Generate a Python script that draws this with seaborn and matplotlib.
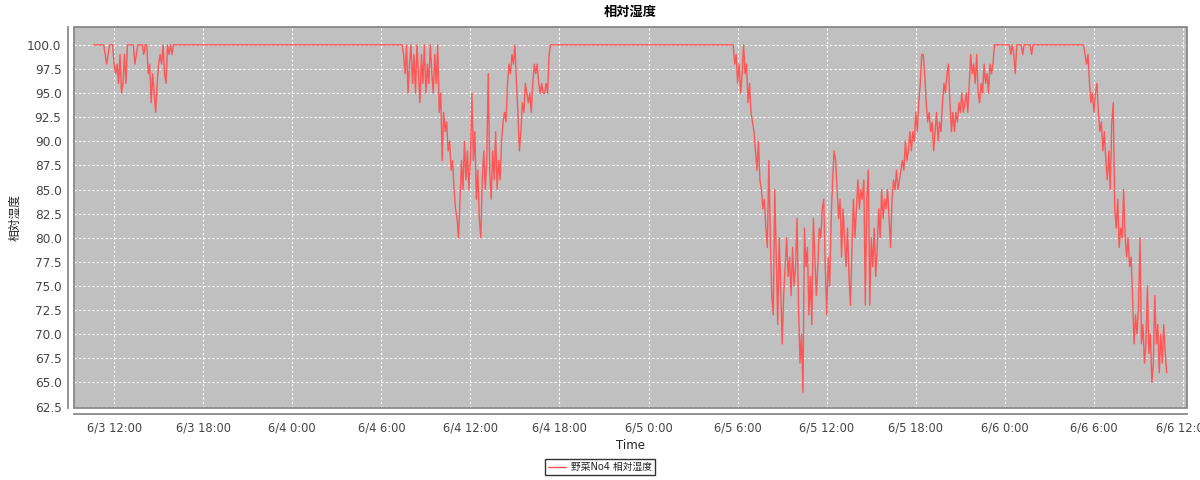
import pandas as pd
import matplotlib
matplotlib.use('Agg')
import matplotlib.pyplot as plt #used for plots
import matplotlib.dates as mdates
from matplotlib.patches import Rectangle
from matplotlib.ticker import FuncFormatter
import seaborn as sns #line plot

#humidity readings, one every 6 minutes, split into the parts where the value moves
#(the line between the parts stays at 100)
seg_a_start = '2000-06-03 10:36'
seg_a = [100, 100, 100, 100, 100, 100, 100, 100, 99, 98,
         99, 100, 100, 100, 98, 97, 98, 96, 99, 95,
         96, 99, 96, 100, 100, 100, 100, 100, 98, 99,
         100, 100, 100, 100, 99, 100, 100, 97, 98, 94,
         97, 95, 93, 96, 98, 99, 98, 100, 97, 96,
         100, 99, 100, 99, 100]

seg_b_start = '2000-06-04 07:24'
seg_b = [100, 99, 97, 100, 95, 98, 100, 96, 99, 95,
         100, 97, 94, 99, 96, 100, 95, 98, 96, 100,
         97, 95, 99, 96, 100, 93, 95, 88, 93, 91,
         92, 89, 90, 87, 88, 85, 83, 82, 80, 84,
         88, 85, 90, 86, 89, 85, 88, 95, 88, 91,
         84, 87, 82, 80, 86, 89, 85, 88, 97, 87,
         84, 89, 86, 91, 85, 88, 86, 90, 92, 93,
         92, 96, 98, 97, 99, 98, 100, 96, 93, 89,
         91, 94, 93, 96, 95, 94, 95, 93, 96, 98,
         97, 98, 96, 95, 96, 95, 95, 96, 95, 99,
         100]

seg_c_start = '2000-06-05 05:36'
seg_c = [100, 100, 98, 99, 96, 98, 95, 97, 100, 97,
         98, 94, 96, 93, 92, 91, 89, 87, 90, 86,
         85, 83, 84, 81, 79, 88, 80, 74, 72, 85,
         78, 71, 80, 75, 69, 74, 77, 80, 76, 78,
         74, 79, 75, 77, 82, 73, 67, 70, 64, 81,
         77, 79, 72, 76, 71, 82, 78, 74, 77, 81,
         80, 83, 84, 77, 72, 78, 75, 82, 86, 89,
         88, 85, 82, 84, 78, 83, 80, 77, 81, 76,
         73, 79, 84, 80, 83, 86, 83, 85, 84, 86,
         73, 84, 87, 73, 80, 77, 81, 76, 79, 83,
         80, 85, 82, 84, 83, 85, 82, 79, 84, 86,
         85, 87, 85, 86, 87, 88, 87, 90, 88, 89,
         91, 89, 91, 90, 93, 91, 94, 96, 99, 99,
         97, 94, 92, 93, 91, 92, 89, 91, 93, 90,
         92, 91, 94, 96, 95, 97, 98, 94, 91, 93,
         91, 93, 92, 94, 93, 95, 93, 94, 95, 93,
         96, 99, 97, 98, 96, 99, 95, 94, 96, 95,
         98, 96, 97, 95, 98, 97, 98, 100, 100, 100]

seg_d_start = '2000-06-06 00:18'
seg_d = [100, 99, 100, 99, 97, 100, 100, 100, 100, 99,
         100, 100, 100, 100, 100, 99, 100]

seg_e_start = '2000-06-06 05:12'
seg_e = [100, 100, 99, 98, 99, 96, 94, 95, 93, 95,
         96, 93, 91, 92, 89, 91, 88, 86, 89, 85,
         92, 94, 83, 81, 84, 79, 81, 80, 85, 80,
         78, 80, 77, 78, 74, 69, 72, 70, 73, 80,
         69, 71, 67, 69, 75, 68, 70, 65, 67, 74,
         69, 71, 66, 70, 67, 71, 68, 66]

x_start = '2000-06-03 09:18'
x_end = '2000-06-06 12:16'
y_ticks = [62.5, 65.0, 67.5, 70.0, 72.5, 75.0, 77.5, 80.0, 82.5, 85.0,
           87.5, 90.0, 92.5, 95.0, 97.5, 100.0]

series_name = '野菜No4 相対湿度'
chart_title = '相対湿度'

#build one table from the parts
parts = []
for start, vals in [(seg_a_start, seg_a), (seg_b_start, seg_b), (seg_c_start, seg_c),
                    (seg_d_start, seg_d), (seg_e_start, seg_e)]:
    t = pd.date_range(start, periods=len(vals), freq='6min')
    parts.append(pd.DataFrame({'Time': t, 'value': vals}))
df = pd.concat(parts, ignore_index=True)
df['series'] = series_name

sns.set_style('white')
plt.rcParams['font.family'] = ['DejaVu Sans', 'Noto Sans CJK JP']

fig = plt.figure(figsize=(12, 4.8), dpi=100)
ax = fig.add_axes([74/1200, 1-408/480, (1187-74)/1200, (408-27)/480])
ax.set_facecolor('#c0c0c0')

sns.lineplot(data=df, x='Time', y='value', hue='series', palette=['#ff5555'],
             estimator=None, sort=False, linewidth=1.0, ax=ax)

ax.set_xlim(pd.Timestamp(x_start), pd.Timestamp(x_end))
ax.set_ylim(62.35, 101.85)
ax.set_yticks(y_ticks)
ax.yaxis.set_major_formatter(FuncFormatter(lambda v, p: f'{v:.1f}'))
ax.xaxis.set_major_locator(mdates.HourLocator(byhour=[0, 6, 12, 18]))
ax.xaxis.set_major_formatter(FuncFormatter(
    lambda v, p: (lambda d: f'{d.month}/{d.day} {d.hour}:{d.minute:02d}')(mdates.num2date(v))))

ax.grid(True, color='white', linestyle=(0, (2, 2)), linewidth=0.8)
ax.tick_params(axis='both', colors='#808080', labelcolor='#444444', labelsize=8.7,
               length=3, width=1, direction='out', pad=2)
ax.tick_params(axis='x', labelsize=8.3, pad=3)

#axis lines a little away from the plot area, like the original chart
for side in ['top', 'right']:
    ax.spines[side].set_visible(False)
for side in ['left', 'bottom']:
    ax.spines[side].set_position(('outward', 4))
    ax.spines[side].set_color('#808080')
    ax.spines[side].set_linewidth(1.2)
ax.add_patch(Rectangle((0, 0), 1, 1, transform=ax.transAxes, fill=False,
                       edgecolor='#808080', linewidth=1.2, clip_on=False, zorder=5))

ax.set_title(chart_title, fontsize=9.5, fontweight='bold', color='black', pad=8)
ax.set_xlabel('Time', fontsize=8.5, color='#222222', labelpad=3)
ax.set_ylabel(chart_title, fontsize=8.5, color='#222222', labelpad=4)

ax.get_legend().remove()
handles, labels = ax.get_legend_handles_labels()
leg = fig.legend(handles, labels, loc='center', bbox_to_anchor=(0.5, 1-467/480),
                 fontsize=7, frameon=True, fancybox=False, edgecolor='black',
                 handlelength=1.8, handletextpad=0.5, borderpad=0.35)
leg.get_frame().set_linewidth(1.0)

fig.savefig('out.png', dpi=100, facecolor='white')
